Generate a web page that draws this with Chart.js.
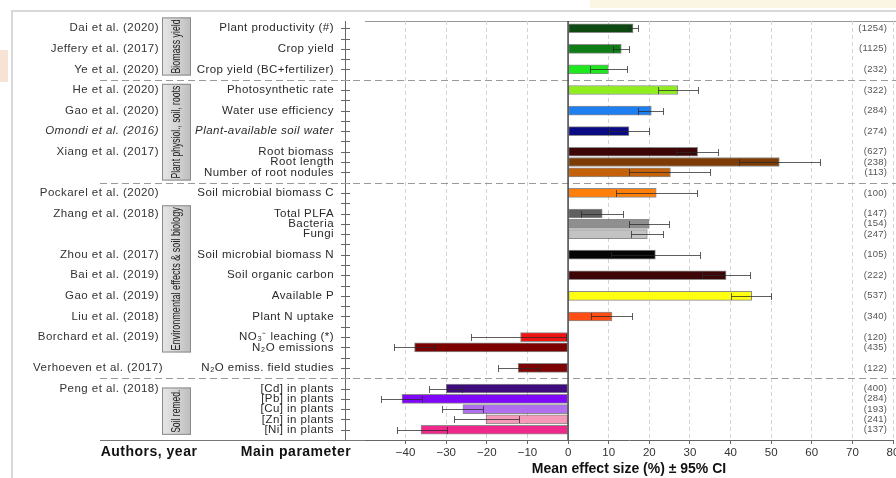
<!DOCTYPE html>
<html>
<head>
<meta charset="utf-8">
<script src="https://cdn.jsdelivr.net/npm/chart.js@4/dist/chart.umd.min.js"></script>
<style>
html,body{margin:0;padding:0;background:#fff;}
#wrap{width:896px;height:478px;position:relative;}
</style>
</head>
<body>
<div id="wrap"><canvas id="c" width="896" height="478"></canvas></div>
<script>
// ---------------- DATA ----------------
const parameters = [
  'Plant productivity (#)', 'Crop yield', 'Crop yield (BC+fertilizer)',
  'Photosynthetic rate', 'Water use efficiency', 'Plant-available soil water',
  'Root biomass', 'Root length', 'Number of root nodules',
  'Soil microbial biomass C', 'Total PLFA', 'Bacteria', 'Fungi',
  'Soil microbial biomass N', 'Soil organic carbon', 'Available P', 'Plant N uptake',
  'NO\u2083\u207B leaching (*)', 'N\u2082O emissions', 'N\u2082O emiss. field studies',
  '[Cd] in plants', '[Pb] in plants', '[Cu] in plants', '[Zn] in plants', '[Ni] in plants'
];
const meanEffect = [16.0, 13.1, 9.9, 27.0, 20.5, 15.0, 31.9, 52.0, 25.2, 21.7, 8.4, 19.9, 19.5,
  21.5, 38.9, 45.2, 10.8, -11.7, -37.8, -12.3, -30.0, -40.9, -25.9, -20.2, -36.2];
const ciLower = [14.7, 11.1, 5.3, 22.1, 17.3, 10.1, 26.6, 42.0, 15.0, 11.7, 3.3, 14.9, 15.6,
  10.5, 33.0, 40.0, 5.7, -23.9, -42.8, -17.3, -34.2, -46.0, -31.0, -28.1, -42.2];
const ciUpper = [17.3, 15.0, 14.6, 31.9, 23.3, 19.9, 37.0, 62.0, 35.0, 31.7, 13.5, 24.8, 23.3,
  32.6, 44.9, 50.0, 15.8, -0.5, -32.8, -7.1, -26.2, -35.9, -20.9, -12.1, -29.9];
const sampleSizes = ['(1254)', '(1125)', '(232)', '(322)', '(284)', '(274)', '(627)', '(238)', '(113)',
  '(100)', '(147)', '(154)', '(247)', '(105)', '(222)', '(537)', '(340)', '(120)', '(435)', '(122)',
  '(400)', '(284)', '(193)', '(241)', '(137)'];
const authors = ['Dai et al. (2020)', 'Jeffery et al. (2017)', 'Ye et al. (2020)', 'He et al. (2020)',
  'Gao et al. (2020)', 'Omondi et al. (2016)', 'Xiang et al. (2017)', 'Pockarel et al. (2020)',
  'Zhang et al. (2018)', 'Zhou et al. (2017)', 'Bai et al. (2019)', 'Gao et al. (2019)',
  'Liu et al. (2018)', 'Borchard et al. (2019)', 'Verhoeven et al. (2017)', 'Peng et al. (2018)'];
// index of the parameter row each author line belongs to
const authorRowIndex = [0, 1, 2, 3, 4, 5, 6, 9, 10, 13, 14, 15, 16, 17, 19, 20];
const groupNames = ['Biomass yield', 'Plant physiol., soil, roots', 'Environmental effects & soil biology', 'Soil remed.'];
const xTickValues = [-40, -30, -20, -10, 0, 10, 20, 30, 40, 50, 60, 70, 80];

// ---------------- LAYOUT (slots on the vertical scale) ----------------
const rowSlots = [1, 3, 5, 7, 9, 11, 13, 14, 15, 17, 19, 20, 21, 23, 25, 27, 29, 31, 32, 34, 36, 37, 38, 39, 40];
const separatorSlots = [6, 16, 35];
const groupSlotSpans = [[-0.05, 5.6], [6.4, 15.8], [18.2, 32.5], [35.9, 40.5]];
const italicRows = [5];

const barColors = ['#0d4a12', '#0e7d16', '#1ee81e', '#90ee20', '#1e7ff0', '#0a0a85', '#3d0505', '#7d3c05',
  '#c4620a', '#ff7f0a', '#5f5f5f', '#8f8f8f', '#c3c3c3', '#050505', '#3d0505', '#ffff10', '#ff4d14',
  '#f01414', '#7d0000', '#7d0404', '#3f0c80', '#8008f8', '#b070f0', '#f59ab8', '#f0288c'];

const FONT = '"Liberation Sans", Arial, Helvetica, sans-serif';

function setSpacing(ctx, px) { if ('letterSpacing' in ctx) ctx.letterSpacing = px + 'px'; }

const overlay = {
  id: 'overlay',
  beforeDraw(chart) {
    const ctx = chart.ctx;
    const ys = v => chart.scales.y.getPixelForValue(v);
    const ca = chart.chartArea;
    ctx.save();
    // page decorations
    ctx.fillStyle = '#fbf6e4';
    ctx.fillRect(590, 0, 306, 8);
    ctx.fillStyle = '#f7e3d6';
    ctx.fillRect(0, 50, 8, 32);
    ctx.strokeStyle = '#d8d8d8';
    ctx.lineWidth = 2;
    ctx.beginPath();
    ctx.moveTo(12, 478); ctx.lineTo(12, 11); ctx.lineTo(896, 11);
    ctx.stroke();

    // left parameter axis
    ctx.strokeStyle = '#666';
    ctx.lineWidth = 1;
    ctx.beginPath();
    ctx.moveTo(345.5, ca.top); ctx.lineTo(345.5, ca.bottom);
    for (let s = 1; s <= 40; s++) {
      const y = Math.round(ys(s)) + 0.5;
      ctx.moveTo(341, y); ctx.lineTo(350, y);
    }
    ctx.stroke();
    // bottom line extension under labels
    ctx.strokeStyle = '#777';
    ctx.beginPath();
    ctx.moveTo(100, ca.bottom + 0.5); ctx.lineTo(ca.left, ca.bottom + 0.5);
    ctx.stroke();
    // plot top frame
    ctx.strokeStyle = '#999';
    ctx.beginPath();
    ctx.moveTo(ca.left, ca.top + 0.5); ctx.lineTo(896, ca.top + 0.5);
    ctx.stroke();

    // group boxes
    groupNames.forEach((name, i) => {
      const y0 = ys(groupSlotSpans[i][0]), y1 = ys(groupSlotSpans[i][1]);
      const x0 = 162, w = 29;
      const g = ctx.createLinearGradient(x0, 0, x0 + w, 0);
      g.addColorStop(0, '#e6e6e6'); g.addColorStop(0.5, '#d4d4d4'); g.addColorStop(1, '#bdbdbd');
      ctx.fillStyle = g;
      ctx.fillRect(x0, y0, w, y1 - y0);
      ctx.strokeStyle = '#8a8a8a';
      ctx.lineWidth = 1;
      ctx.strokeRect(x0 + 0.5, y0 + 0.5, w - 1, y1 - y0 - 1);
      ctx.save();
      ctx.translate(x0 + w / 2, (y0 + y1) / 2);
      ctx.rotate(-Math.PI / 2);
      ctx.font = '11.5px ' + FONT;
      ctx.fillStyle = '#222';
      ctx.textAlign = 'center';
      ctx.textBaseline = 'middle';
      const tw = ctx.measureText(name).width;
      const avail = (y1 - y0) - 4;
      const s = Math.min(1, avail / tw);
      ctx.scale(s, 1.1);
      ctx.fillText(name, 0, 0);
      ctx.restore();
    });

    // author labels
    ctx.textBaseline = 'middle';
    ctx.textAlign = 'right';
    ctx.fillStyle = '#333';
    setSpacing(ctx, 0.45);
    authors.forEach((a, i) => {
      const r = authorRowIndex[i];
      ctx.font = (italicRows.includes(r) ? 'italic ' : '') + '11.5px ' + FONT;
      const xr = a.startsWith('Verhoeven') ? 163 : 159;
      ctx.fillText(a, xr, ys(rowSlots[r]));
    });
    // parameter labels
    parameters.forEach((p, i) => {
      ctx.font = (italicRows.includes(i) ? 'italic ' : '') + '11.5px ' + FONT;
      ctx.fillStyle = '#2a2a2a';
      ctx.fillText(p, 334, ys(rowSlots[i]));
    });
    // sample sizes
    setSpacing(ctx, 0.2);
    ctx.font = '9.5px ' + FONT;
    ctx.fillStyle = '#555';
    sampleSizes.forEach((n, i) => ctx.fillText(n, 887, ys(rowSlots[i])));

    // footer headings
    setSpacing(ctx, 0.5);
    ctx.font = 'bold 14px ' + FONT;
    ctx.fillStyle = '#111';
    ctx.textAlign = 'center';
    ctx.fillText('Authors, year', 149, 452);
    ctx.fillText('Main parameter', 296, 452);
    ctx.restore();
  },
  beforeDatasetsDraw(chart) {
    const ctx = chart.ctx;
    const ys = v => chart.scales.y.getPixelForValue(v);
    ctx.save();
    ctx.strokeStyle = '#9a9a9a';
    ctx.lineWidth = 1.2;
    ctx.setLineDash([7, 4]);
    separatorSlots.forEach(s => {
      const y = Math.round(ys(s)) + 0.5;
      ctx.beginPath(); ctx.moveTo(100, y); ctx.lineTo(896, y); ctx.stroke();
    });
    ctx.restore();
  },
  afterDatasetsDraw(chart) {
    const ctx = chart.ctx;
    const xs = v => chart.scales.x.getPixelForValue(v);
    const ys = v => chart.scales.y.getPixelForValue(v);
    const ca = chart.chartArea;
    ctx.save();
    // zero line
    ctx.strokeStyle = '#444';
    ctx.lineWidth = 1.5;
    ctx.beginPath();
    ctx.moveTo(xs(0), ca.top); ctx.lineTo(xs(0), ca.bottom);
    ctx.stroke();
    // error bars
    ctx.lineWidth = 1;
    ctx.strokeStyle = 'rgba(40,40,40,0.75)';
    rowSlots.forEach((s, i) => {
      const y = Math.round(ys(s)) + 0.5;
      const xl = Math.round(xs(ciLower[i])) + 0.5, xh = Math.round(xs(ciUpper[i])) + 0.5;
      ctx.beginPath();
      ctx.moveTo(xl, y); ctx.lineTo(xh, y);
      ctx.moveTo(xl, y - 3.5); ctx.lineTo(xl, y + 3.5);
      ctx.moveTo(xh, y - 3.5); ctx.lineTo(xh, y + 3.5);
      ctx.stroke();
    });
    ctx.restore();
  }
};

new Chart(document.getElementById('c'), {
  type: 'bar',
  data: {
    datasets: [{
      data: meanEffect.map((v, i) => ({ x: v, y: rowSlots[i] })),
      backgroundColor: barColors,
      borderColor: 'rgba(0,0,0,0.45)',
      borderWidth: 1,
      borderSkipped: false,
      barThickness: 9
    }]
  },
  options: {
    indexAxis: 'y',
    responsive: false,
    animation: false,
    devicePixelRatio: 1,
    layout: { padding: { left: 365, top: 21, right: 3, bottom: 0 } },
    plugins: { legend: { display: false }, tooltip: { enabled: false } },
    scales: {
      y: { type: 'linear', min: 0.3, max: 41, reverse: true, offset: false, display: false },
      x: {
        type: 'linear', min: -50, max: 80,
        afterFit(s) { s.height = 38; s.paddingLeft = 0; s.paddingRight = 0; },
        afterBuildTicks(s) { s.ticks = [-50].concat(xTickValues).map(v => ({ value: v })); },
        ticks: {
          color: '#333', padding: 2, maxRotation: 0, autoSkip: false,
          font: { size: 11.5, family: FONT },
          callback: v => v === -50 ? '' : (v < 0 ? '\u2212' + Math.abs(v) : String(v))
        },
        grid: {
          color: c => (c.tick && (c.tick.value === 0 || c.tick.value === -50)) ? 'rgba(0,0,0,0)' : '#d4d4d4',
          tickColor: c => (c.tick && c.tick.value === -50) ? 'rgba(0,0,0,0)' : '#666',
          lineWidth: 1, tickLength: 4
        },
        border: { display: true, color: '#666', width: 1, dash: [4, 3] },
        title: {
          display: true, text: 'Mean effect size (%) \u00B1 95% CI', color: '#111',
          font: { size: 14, weight: 'bold', family: FONT }, padding: { top: 1, bottom: 0 }
        }
      }
    }
  },
  plugins: [overlay]
});
</script>
</body>
</html>
